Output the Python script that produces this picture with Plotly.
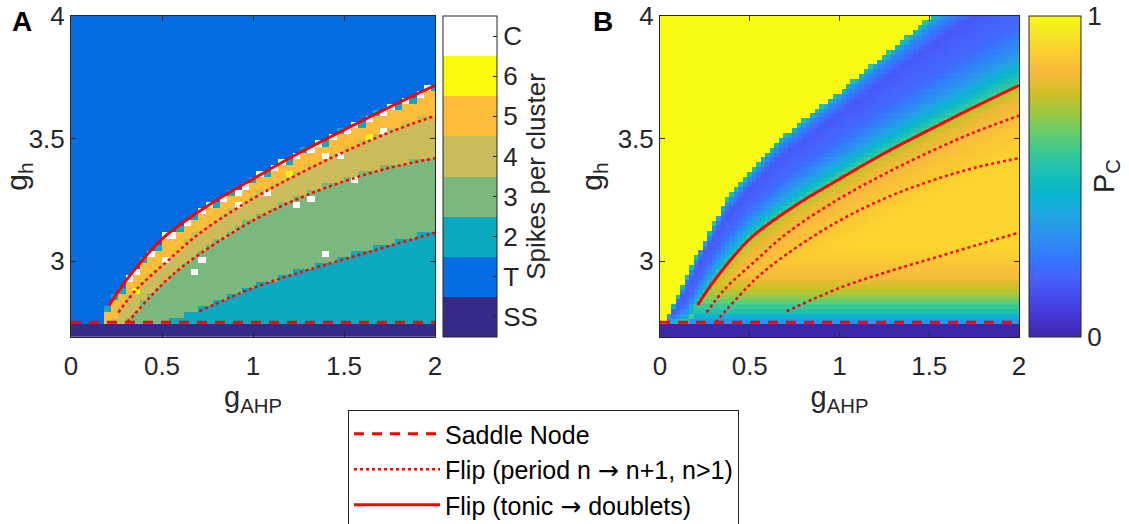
import numpy as np
import plotly.graph_objects as go

# ---------------- data ----------------
category_labels = ["SS", "T", "2", "3", "4", "5", "6", "C"]
category_colors = ["#352a87", "#056de1", "#0aa9c0", "#7bb87e",
                   "#cabb5b", "#fdbd3b", "#fafa0a", "#ffffff"]

# bifurcation curves (g_AHP, g_h)
saddle_x = [0.0, 2.0]
saddle_y = [2.75, 2.75]

flip_tonic_x = [0.21, 0.30, 0.50, 0.75, 1.00, 1.25, 1.50, 1.75, 2.00]
flip_tonic_y = [2.82, 2.918, 3.09, 3.225, 3.335, 3.44, 3.535, 3.628, 3.717]

flip_a_x = [0.26, 0.36, 0.53, 0.71, 1.00, 1.25, 1.50, 1.75, 2.00]
flip_a_y = [2.79, 2.884, 3.00, 3.115, 3.255, 3.355, 3.445, 3.525, 3.593]

flip_b_x = [0.31, 0.53, 0.71, 1.00, 1.25, 1.50, 1.75, 2.00]
flip_b_y = [2.75, 2.925, 3.03, 3.165, 3.255, 3.325, 3.38, 3.42]

flip_c_x = [0.705, 1.00, 1.25, 1.50, 1.75, 2.00]
flip_c_y = [2.795, 2.89, 2.952, 3.007, 3.062, 3.116]

# panel A region edges (staircase borders between cluster sizes)
ss_level = 2.742
edge_T_x = [0.155, 0.21, 0.30, 0.50, 0.75, 1.00, 1.25, 1.50, 1.75, 2.00]
edge_T_y = [2.742, 2.82, 2.918, 3.09, 3.225, 3.335, 3.44, 3.535, 3.628, 3.717]
edge_5_x = [0.215, 0.26, 0.36, 0.53, 0.71, 1.00, 1.25, 1.50, 1.75, 2.00]
edge_5_y = [2.742, 2.79, 2.884, 3.00, 3.115, 3.255, 3.355, 3.445, 3.525, 3.593]
edge_4_x = [0.295, 0.31, 0.53, 0.71, 1.00, 1.25, 1.50, 1.75, 2.00]
edge_4_y = [2.742, 2.75, 2.925, 3.03, 3.165, 3.255, 3.325, 3.38, 3.42]
edge_3_x = [0.55, 0.705, 1.00, 1.25, 1.50, 1.75, 2.00]
edge_3_y = [2.742, 2.795, 2.89, 2.952, 3.007, 3.062, 3.116]

# cells right under the tonic border, column by column from g_AHP = 0.16
top_edge_cells = "2222CC2C2CC2C2CC2C2CC2C2CC2C2CC2C2CC2C2CC2C2CC2"
# isolated cells (g_AHP, g_h, category)
special_x = [0.35, 1.22, 1.64, 0.53, 0.67, 0.71, 0.93, 1.10, 1.25, 1.32, 1.42, 1.50, 1.57, 1.72, 1.42]
special_y = [2.88, 3.35, 3.50, 3.00, 2.96, 3.00, 3.23, 3.29, 3.22, 3.25, 3.42, 3.44, 3.325, 3.52, 3.02]
special_c = ["6", "6", "6", "C", "C", "C", "C", "C", "C", "C", "C", "C", "C", "C", "C"]

# panel B: P_C structure
pc_edge_x = [0.03, 0.19, 0.37, 0.67, 1.10, 1.52, 2.00]
pc_edge_y = [2.742, 3.00, 3.25, 3.50, 3.75, 4.00, 4.25]
band_s = [0.0, 0.1, 0.25, 0.45, 0.75, 0.92, 1.0]
band_pc = [0.60, 0.48, 0.33, 0.21, 0.16, 0.30, 0.55]
depth_d = [0.0, 0.05, 0.15, 0.30, 0.45]
depth_pc = [0.72, 0.80, 0.85, 0.91, 0.94]
height_h = [0.0, 0.02, 0.05, 0.10, 0.15, 0.20, 0.30]
height_pc = [0.25, 0.38, 0.52, 0.66, 0.76, 0.83, 0.90]

parula_rgb = [
    (0.2422, 0.1504, 0.6603), (0.2706, 0.2147, 0.8364), (0.2813, 0.3006, 0.9414),
    (0.2699, 0.3892, 0.9906), (0.1963, 0.4847, 0.9892), (0.1687, 0.5703, 0.9359),
    (0.1248, 0.6459, 0.8883), (0.0297, 0.7082, 0.8163), (0.0964, 0.7500, 0.7120),
    (0.2161, 0.7843, 0.5923), (0.3909, 0.8029, 0.4354), (0.6174, 0.7876, 0.2612),
    (0.8203, 0.7498, 0.1535), (0.9728, 0.7298, 0.2394), (0.9892, 0.8136, 0.1885),
    (0.9597, 0.9135, 0.1423), (0.9769, 0.9839, 0.0805)]
parula_pos = [0, 4, 8, 12, 16, 20, 24, 28, 32, 36, 40, 44, 48, 52, 56, 60, 63]

# ---------------- grids ----------------
xa = np.round(np.arange(51) * 0.04, 4)
ya = np.round(2.705 + 0.025 * np.arange(53), 4)
xb = np.round(np.arange(81) * 0.025, 4)
yb = np.round(2.692 + 0.02 * np.arange(67), 4)

cat_index = {c: i for i, c in enumerate(category_labels)}


def edge(xq, ex, ey, left=-np.inf):
    return np.interp(xq, ex, ey, left=left)


za = np.zeros((len(ya), len(xa)), dtype=int)
for j, x in enumerate(xa):
    eT = edge(x, edge_T_x, edge_T_y)
    e5 = edge(x, edge_5_x, edge_5_y)
    e4 = edge(x, edge_4_x, edge_4_y)
    e3 = edge(x, edge_3_x, edge_3_y)
    for i, y in enumerate(ya):
        if y < ss_level:
            c = 0
        elif y > eT + 0.005:
            c = 1
        elif y > e5 + 0.01:
            c = 5
        elif y > e4 + 0.01:
            c = 4
        elif y > e3 + 0.01:
            c = 3
        else:
            c = 2
        za[i, j] = c
first_col = int(np.argmin(np.abs(xa - 0.16)))
for k, ch in enumerate(top_edge_cells):
    j = first_col + k
    if j >= len(xa):
        break
    col = za[:, j]
    idx = np.where((col != 0) & (col != 1))[0]
    if len(idx):
        za[idx.max(), j] = cat_index[ch]
for sx, sy, sc in zip(special_x, special_y, special_c):
    j = int(np.argmin(np.abs(xa - sx)))
    i = int(np.argmin(np.abs(ya - sy)))
    za[i, j] = cat_index[sc]

zb = np.zeros((len(yb), len(xb)))
for j, x in enumerate(xb):
    ye = edge(x, pc_edge_x, pc_edge_y, left=ss_level)
    ys = edge(x, edge_T_x, edge_T_y, left=ss_level)
    for i, y in enumerate(yb):
        if y < ss_level:
            v = 0.0
        elif y >= ye:
            v = 1.0
        elif y >= ys:
            s = (y - ys) / max(ye - ys, 1e-6)
            v = np.interp(s, band_s, band_pc)
        else:
            v = min(np.interp(ys - y, depth_d, depth_pc),
                    np.interp(y - ss_level, height_h, height_pc))
        zb[i, j] = v

# ---------------- figure ----------------
W, H = 1129, 524
FONT = "Liberation Sans, Arial, Helvetica, sans-serif"
INK = "#262626"


def px(x):
    return x / W


def py(y):
    return 1 - y / H


n = len(category_labels)
cs_a = []
for k, c in enumerate(category_colors):
    cs_a.append([k / n, c])
    cs_a.append([(k + 1) / n, c])

parula = [[p / 63, "rgb(%d,%d,%d)" % tuple(round(255 * v) for v in rgb)]
          for p, rgb in zip(parula_pos, parula_rgb)]

bar_len = (337 - 16) / H
bar_y = py((337 + 16) / 2)

fig = go.Figure()
fig.add_trace(go.Heatmap(
    x=xa, y=ya, z=za, xaxis="x", yaxis="y", colorscale=cs_a,
    zmin=-0.5, zmax=n - 0.5, hoverinfo="skip",
    colorbar=dict(x=px(443), xanchor="left", y=bar_y, yanchor="middle",
                  len=bar_len, lenmode="fraction", thickness=54,
                  xpad=0, ypad=0, outlinewidth=1, outlinecolor=INK,
                  tickvals=list(range(n)), ticktext=category_labels,
                  ticks="inside", ticklen=4, tickcolor=INK,
                  tickfont=dict(size=26, color=INK, family=FONT),
                  title=dict(text="Spikes per cluster", side="right",
                             font=dict(size=26, color=INK, family=FONT)))))
fig.add_trace(go.Heatmap(
    x=xb, y=yb, z=zb, xaxis="x2", yaxis="y2", colorscale=parula,
    zmin=0, zmax=1, hoverinfo="skip",
    colorbar=dict(x=px(1029), xanchor="left", y=bar_y, yanchor="middle",
                  len=bar_len, lenmode="fraction", thickness=52,
                  xpad=0, ypad=0, outlinewidth=1, outlinecolor=INK,
                  tickvals=[0, 1], ticktext=["0", "1"], ticks="",
                  tickfont=dict(size=26, color=INK, family=FONT))))

RED = "#ff0000"
ARROW = '<span style="font-family:DejaVu Sans">\u2192</span>'
for ax, ay, show in (("x", "y", True), ("x2", "y2", False)):
    fig.add_trace(go.Scatter(x=saddle_x, y=saddle_y, xaxis=ax, yaxis=ay, mode="lines",
                             line=dict(color=RED, width=3, dash="10px,8px"),
                             name="Saddle Node", legendgroup="sn", showlegend=show))
    for k, (cx, cy) in enumerate(((flip_a_x, flip_a_y), (flip_b_x, flip_b_y), (flip_c_x, flip_c_y))):
        fig.add_trace(go.Scatter(x=cx, y=cy, xaxis=ax, yaxis=ay, mode="lines",
                                 line=dict(color=RED, width=2.5, dash="dot", shape="spline"),
                                 name="Flip (period n " + ARROW + " n+1, n>1)", legendgroup="fp",
                                 showlegend=show and k == 0))
    fig.add_trace(go.Scatter(x=flip_tonic_x, y=flip_tonic_y, xaxis=ax, yaxis=ay, mode="lines",
                             line=dict(color=RED, width=3, shape="spline"),
                             name="Flip (tonic " + ARROW + " doublets)", legendgroup="ft",
                             showlegend=show))

axis_common = dict(showline=True, linecolor=INK, linewidth=1, mirror="ticks",
                   ticks="inside", ticklen=5, tickcolor=INK, showgrid=False,
                   zeroline=False, automargin=False,
                   tickfont=dict(size=26, color=INK, family=FONT))
xt = dict(tickvals=[0, 0.5, 1, 1.5, 2], ticktext=["0", "0.5", "1", "1.5", "2"],
          range=[0, 2], ticklabelstandoff=6)
yt = dict(tickvals=[3, 3.5, 4], ticktext=["3", "3.5", "4"], range=[2.69, 4.0])
title_x = dict(text="g<sub>AHP</sub>", font=dict(size=29, color=INK, family=FONT), standoff=0)
title_y = dict(text="g<sub>h</sub>", font=dict(size=30, color=INK, family=FONT), standoff=6)
dom_y = [py(337), py(16)]

fig.update_layout(
    width=W, height=H, margin=dict(l=0, r=0, t=0, b=0, autoexpand=False),
    paper_bgcolor="white", plot_bgcolor="white",
    font=dict(family=FONT, color=INK),
    xaxis=dict(domain=[px(71), px(435)], anchor="y", title=title_x, **xt, **axis_common),
    yaxis=dict(domain=dom_y, anchor="x", title=title_y, **yt, **axis_common),
    xaxis2=dict(domain=[px(660), px(1019)], anchor="y2", title=title_x, **xt, **axis_common),
    yaxis2=dict(domain=dom_y, anchor="x2", title=title_y, **yt, **axis_common),
    legend=dict(x=px(348), y=py(410), xanchor="left", yanchor="top",
                bgcolor="white", bordercolor=INK, borderwidth=1,
                font=dict(size=25, color="black", family=FONT),
                itemwidth=86, traceorder="normal"),
    annotations=[
        dict(text="<b>A</b>", x=px(10), y=py(4), xref="paper", yref="paper",
             xanchor="left", yanchor="top", showarrow=False,
             font=dict(size=28, color="black", family=FONT)),
        dict(text="<b>B</b>", x=px(591), y=py(4), xref="paper", yref="paper",
             xanchor="left", yanchor="top", showarrow=False,
             font=dict(size=28, color="black", family=FONT)),
        dict(text="P<sub>C</sub>", x=px(1106), y=py(176), xref="paper", yref="paper",
             xanchor="center", yanchor="middle", textangle=-90, showarrow=False,
             font=dict(size=29, color=INK, family=FONT)),
    ],
)

fig.write_html("out.html")
